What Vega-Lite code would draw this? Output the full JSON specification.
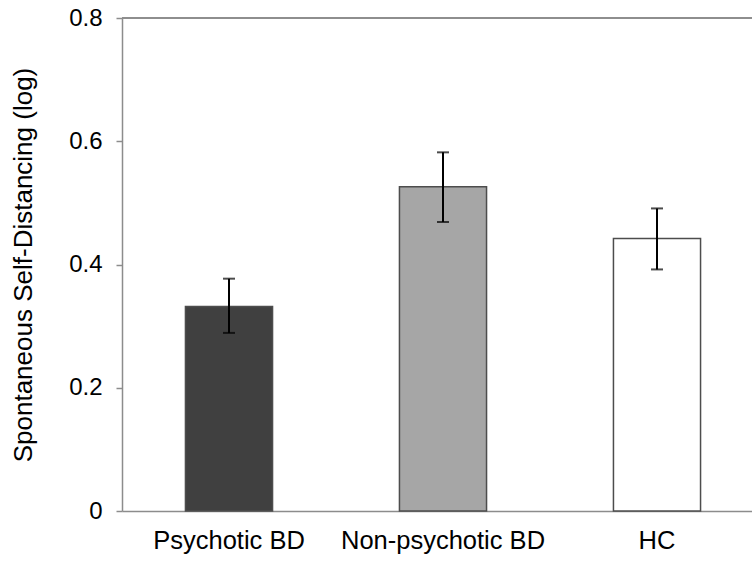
{
  "$schema": "https://vega.github.io/schema/vega-lite/v6.json",
  "autosize": {"type": "none"},
  "padding": {"left": 122, "top": 18, "right": 0, "bottom": 53},
  "width": 642,
  "height": 493,
  "background": "white",
  "config": {
    "view": {"stroke": null},
    "font": "Liberation Sans",
    "axis": {"domainColor": "#8c8c8c", "tickColor": "#8c8c8c", "domainWidth": 1.5, "tickWidth": 1.5, "labelColor": "black", "titleColor": "black", "grid": false}
  },
  "data": {"values": [
    {"group": "Psychotic BD", "mean": 0.332, "lo": 0.289, "hi": 0.377},
    {"group": "Non-psychotic BD", "mean": 0.526, "lo": 0.469, "hi": 0.582},
    {"group": "HC", "mean": 0.442, "lo": 0.392, "hi": 0.491}
  ]},
  "encoding": {
    "x": {"field": "group", "type": "nominal", "sort": null,
      "scale": {"paddingInner": 0.593, "paddingOuter": 0.2965},
      "axis": {"title": null, "labelAngle": 0, "ticks": false, "labelFontSize": 25.5, "labelPadding": 17, "labelLimit": 400, "domain": true}}
  },
  "layer": [
    {
      "mark": {"type": "bar", "stroke": "#4d4d4d", "strokeWidth": 1.5},
      "encoding": {
        "y": {"field": "mean", "type": "quantitative",
          "scale": {"domain": [0, 0.8], "nice": false},
          "axis": {"title": "Spontaneous Self-Distancing (log)", "titleFontSize": 26, "titleFontWeight": "normal", "titlePadding": 32,
            "values": [0, 0.2, 0.4, 0.6, 0.8], "labelFontSize": 24, "labelPadding": 14, "tickSize": 6,
            "labelExpr": "datum.value === 0 ? '0' : format(datum.value, '.1f')"}},
        "fill": {"field": "group", "type": "nominal", "legend": null,
          "scale": {"domain": ["Psychotic BD", "Non-psychotic BD", "HC"], "range": ["#404040", "#a6a6a6", "#ffffff"]}}
      }
    },
    {
      "mark": {"type": "rule", "color": "#8c8c8c", "strokeWidth": 1.5},
      "encoding": {"x": {"value": 0}, "x2": {"value": 752}, "y": {"datum": 0.8, "type": "quantitative"}}
    },
    {
      "mark": {"type": "rule", "color": "black", "strokeWidth": 2},
      "encoding": {"y": {"field": "lo", "type": "quantitative"}, "y2": {"field": "hi"}}
    },
    {
      "mark": {"type": "tick", "color": "black", "thickness": 2, "size": 12},
      "encoding": {"y": {"field": "lo", "type": "quantitative"}}
    },
    {
      "mark": {"type": "tick", "color": "black", "thickness": 2, "size": 12},
      "encoding": {"y": {"field": "hi", "type": "quantitative"}}
    }
  ]
}
